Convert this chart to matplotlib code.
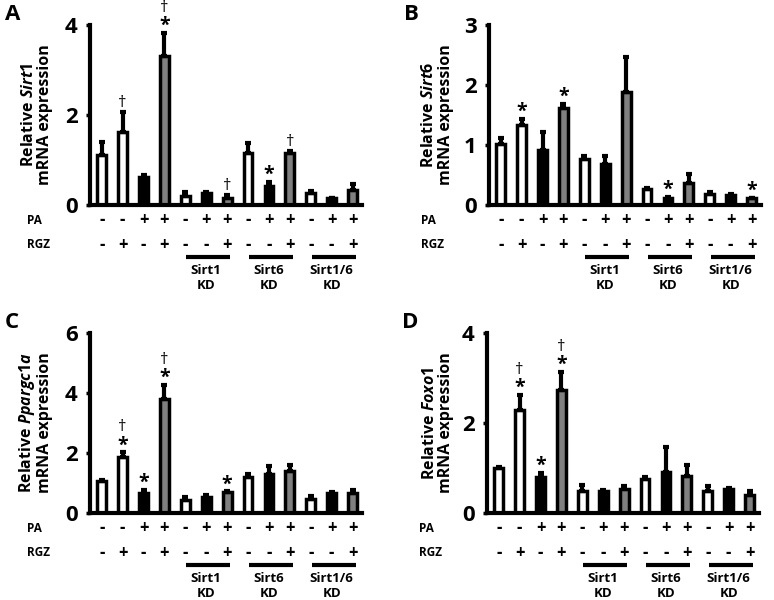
import numpy as np
import matplotlib
matplotlib.use('Agg')
import matplotlib.pyplot as plt
import matplotlib.transforms as mtransforms

plt.rcParams['font.family'] = ['Open Sans', 'DejaVu Sans']
plt.rcParams['font.weight'] = 'bold'
plt.rcParams['mathtext.fontset'] = 'custom'
plt.rcParams['mathtext.rm'] = 'Open Sans:bold'
plt.rcParams['mathtext.it'] = 'Open Sans:italic:bold'

# treatment rows and knockdown groups
pa = ['-', '-', '+', '+', '-', '+', '+', '-', '+', '+', '-', '+', '+']
rgz = ['-', '+', '-', '+', '-', '-', '+', '-', '-', '+', '-', '-', '+']
bar_colors = ['white', 'white', 'black', 'gray'] + ['white', 'black', 'gray'] * 3
kd_labels = ['Sirt1\nKD', 'Sirt6\nKD', 'Sirt1/6\nKD']
kd_start = [4, 7, 10]

# A: Sirt1
sirt1_mean = [1.11, 1.63, 0.62, 3.31, 0.20, 0.26, 0.16, 1.15, 0.43, 1.16, 0.26, 0.15, 0.33]
sirt1_err = [0.30, 0.44, 0.04, 0.52, 0.10, 0.02, 0.06, 0.22, 0.09, 0.03, 0.06, 0.01, 0.13]
sirt1_marks = ['', 'd', '', 'sd', '', '', 'd', '', 's', 'd', '', '', '']

# B: Sirt6
sirt6_mean = [1.02, 1.33, 0.91, 1.61, 0.77, 0.68, 1.88, 0.26, 0.12, 0.36, 0.18, 0.16, 0.11]
sirt6_err = [0.09, 0.11, 0.31, 0.08, 0.05, 0.14, 0.58, 0.03, 0.01, 0.16, 0.03, 0.02, 0.01]
sirt6_marks = ['', 's', '', 's', '', '', '', '', 's', '', '', '', 's']

# C: Ppargc1a
ppar_mean = [1.06, 1.87, 0.67, 3.80, 0.44, 0.53, 0.69, 1.19, 1.31, 1.41, 0.48, 0.67, 0.67]
ppar_err = [0.05, 0.15, 0.11, 0.48, 0.08, 0.08, 0.03, 0.12, 0.27, 0.20, 0.08, 0.03, 0.11]
ppar_marks = ['', 'sd', 's', 'sd', '', '', 's', '', '', '', '', '', '']

# D: Foxo1
foxo_mean = [1.00, 2.28, 0.79, 2.74, 0.50, 0.48, 0.53, 0.76, 0.91, 0.82, 0.48, 0.53, 0.41]
foxo_err = [0.02, 0.35, 0.10, 0.39, 0.13, 0.04, 0.08, 0.03, 0.55, 0.25, 0.11, 0.02, 0.09]
foxo_marks = ['', 'sd', 's', 'sd', '', '', '', '', '', '', '', '', '']

W, H = 774, 600
fig = plt.figure(figsize=(W / 100, H / 100), dpi=100)


def panel(left, top, letter, gene, mean, err, marks, ymax, yticks, lab_x, row_x):
    # left/top given in pixels of the figure, axes 272 x 180 px
    ax = fig.add_axes([left / W, 1 - (top + 180) / H, 272 / W, 180 / H])
    x = np.arange(len(mean))
    ax.bar(x, mean, width=0.42, color=bar_colors, edgecolor='black', linewidth=2.5,
           yerr=[np.zeros(len(err)), err],
           error_kw=dict(elinewidth=3, capsize=2, capthick=3, ecolor='black'))
    ax.set_xlim(-0.56, 12.45)
    ax.set_ylim(0, ymax)
    ax.set_xticks([])
    ax.set_yticks(yticks)
    ax.set_yticklabels([str(t) for t in yticks], fontsize=16, fontweight='bold')
    ax.tick_params(axis='y', length=3, width=2.5, pad=6)
    for s in ['top', 'right']:
        ax.spines[s].set_visible(False)
    for s in ['left', 'bottom']:
        ax.spines[s].set_linewidth(3)
    ax.set_ylabel('Relative $\\mathit{' + gene + '}$\nmRNA expression', fontsize=11.5,
                  fontweight='bold', linespacing=1.05)
    ax.yaxis.set_label_coords(lab_x, 0.5)

    # significance marks: s = star, d = dagger
    for i, m in enumerate(marks):
        y = mean[i] + err[i]
        off = 0
        if 's' in m:
            ax.annotate('*', xy=(i, y), xytext=(0, -3), textcoords='offset pixels',
                        ha='center', va='bottom', fontsize=14, fontweight='bold')
            off = 16
        if 'd' in m:
            ax.annotate('\u2020', xy=(i, y), xytext=(0, off + 1), textcoords='offset pixels',
                        ha='center', va='bottom', fontsize=12, fontweight='normal')

    trans = mtransforms.blended_transform_factory(ax.transData, ax.transAxes)
    for i in range(len(pa)):
        ax.text(i, -15 / 180, pa[i], transform=trans, ha='center', va='center',
                fontsize=12, fontweight='bold')
        ax.text(i, -40 / 180, rgz[i], transform=trans, ha='center', va='center',
                fontsize=12, fontweight='bold')
    ax.text(row_x, -15 / 180, 'PA', transform=ax.transAxes, ha='left', va='center',
            fontsize=8.5, fontweight='bold')
    ax.text(row_x, -40 / 180, 'RGZ', transform=ax.transAxes, ha='left', va='center',
            fontsize=8.5, fontweight='bold')
    for s, lab in zip(kd_start, kd_labels):
        ax.plot([s + 0.05, s + 2.15], [-52 / 180, -52 / 180], transform=trans,
                color='black', linewidth=3, clip_on=False, solid_capstyle='butt')
        ax.text(s + 1, -73 / 180, lab, transform=trans, ha='center', va='center',
                fontsize=9.5, fontweight='bold', linespacing=1.25)

    fig.text((left - 85) / W, 1 - (top - 11) / H, letter, ha='left', va='center',
             fontsize=16, fontweight='bold')
    return ax


panel(90, 25, 'A', 'Sirt1', sirt1_mean, sirt1_err, sirt1_marks, 4, [0, 2, 4], -0.135, -0.23)
panel(489, 25, 'B', 'Sirt6', sirt6_mean, sirt6_err, sirt6_marks, 3, [0, 1, 2, 3], -0.13, -0.25)
panel(90, 333, 'C', 'Ppargc1a', ppar_mean, ppar_err, ppar_marks, 6, [0, 2, 4, 6], -0.135, -0.23)
panel(487, 333, 'D', 'Foxo1', foxo_mean, foxo_err, foxo_marks, 4, [0, 2, 4], -0.12, -0.25)

fig.savefig('out.png', dpi=100)
